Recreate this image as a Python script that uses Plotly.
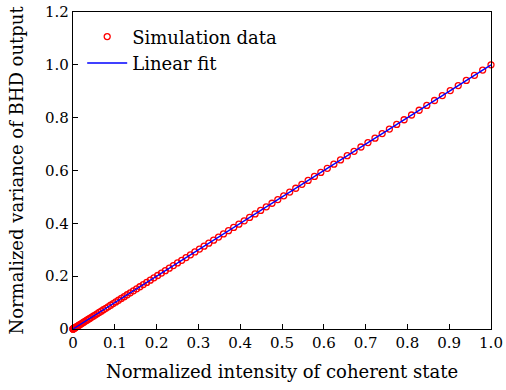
import plotly.graph_objects as go

sim_x = [0, 0.0001, 0.0004, 0.0009, 0.0016, 0.0025, 0.0036, 0.0049, 0.0064, 0.0081,
         0.01, 0.0121, 0.0144, 0.0169, 0.0196, 0.0225, 0.0256, 0.0289, 0.0324, 0.0361,
         0.04, 0.0441, 0.0484, 0.0529, 0.0576, 0.0625, 0.0676, 0.0729, 0.0784, 0.0841,
         0.09, 0.0961, 0.1024, 0.1089, 0.1156, 0.1225, 0.1296, 0.1369, 0.1444, 0.1521,
         0.16, 0.1681, 0.1764, 0.1849, 0.1936, 0.2025, 0.2116, 0.2209, 0.2304, 0.2401,
         0.25, 0.2601, 0.2704, 0.2809, 0.2916, 0.3025, 0.3136, 0.3249, 0.3364, 0.3481,
         0.36, 0.3721, 0.3844, 0.3969, 0.4096, 0.4225, 0.4356, 0.4489, 0.4624, 0.4761,
         0.49, 0.5041, 0.5184, 0.5329, 0.5476, 0.5625, 0.5776, 0.5929, 0.6084, 0.6241,
         0.64, 0.6561, 0.6724, 0.6889, 0.7056, 0.7225, 0.7396, 0.7569, 0.7744, 0.7921,
         0.81, 0.8281, 0.8464, 0.8649, 0.8836, 0.9025, 0.9216, 0.9409, 0.9604, 0.9801, 1.0]
sim_y = [0, 0.0001, 0.0004, 0.0009, 0.0016, 0.0025, 0.0036, 0.0049, 0.0064, 0.0081,
         0.01, 0.0121, 0.0144, 0.0169, 0.0196, 0.0225, 0.0256, 0.0289, 0.0324, 0.0361,
         0.04, 0.0441, 0.0484, 0.0529, 0.0576, 0.0625, 0.0676, 0.0729, 0.0784, 0.0841,
         0.09, 0.0961, 0.1024, 0.1089, 0.1156, 0.1225, 0.1296, 0.1369, 0.1444, 0.1521,
         0.16, 0.1681, 0.1764, 0.1849, 0.1936, 0.2025, 0.2116, 0.2209, 0.2304, 0.2401,
         0.25, 0.2601, 0.2704, 0.2809, 0.2916, 0.3025, 0.3136, 0.3249, 0.3364, 0.3481,
         0.36, 0.3721, 0.3844, 0.3969, 0.4096, 0.4225, 0.4356, 0.4489, 0.4624, 0.4761,
         0.49, 0.5041, 0.5184, 0.5329, 0.5476, 0.5625, 0.5776, 0.5929, 0.6084, 0.6241,
         0.64, 0.6561, 0.6724, 0.6889, 0.7056, 0.7225, 0.7396, 0.7569, 0.7744, 0.7921,
         0.81, 0.8281, 0.8464, 0.8649, 0.8836, 0.9025, 0.9216, 0.9409, 0.9604, 0.9801, 1.0]
fit_x = [0.0, 1.0]
fit_y = [0.0, 1.0]

x_tickvals = [0, 0.1, 0.2, 0.3, 0.4, 0.5, 0.6, 0.7, 0.8, 0.9, 1.0]
x_ticktext = ["0", "0.1", "0.2", "0.3", "0.4", "0.5", "0.6", "0.7", "0.8", "0.9", "1.0"]
y_tickvals = [0, 0.2, 0.4, 0.6, 0.8, 1.0, 1.2]
y_ticktext = ["0", "0.2", "0.4", "0.6", "0.8", "1.0", "1.2"]

FONT = "DejaVu Serif"
TICK_FS = 15
TEXT_FS = 18

fig = go.Figure()
fig.add_trace(go.Scatter(
    x=sim_x, y=sim_y, mode="markers", name="Simulation data",
    marker=dict(symbol="circle-open", color="#ff0000", size=6, line=dict(width=1.3, color="#ff0000")),
    cliponaxis=False,
))
fig.add_trace(go.Scatter(
    x=fit_x, y=fit_y, mode="lines", name="Linear fit",
    line=dict(color="#0000ff", width=1.4),
    cliponaxis=False,
))

axis_common = dict(
    showgrid=False, zeroline=False, showline=True, mirror=True,
    linecolor="black", linewidth=1.2, ticks="inside", ticklen=5,
    tickwidth=1, tickcolor="black", automargin=False,
    tickfont=dict(family=FONT, size=TICK_FS, color="black"),
)

fig.update_layout(
    width=506, height=390,
    margin=dict(l=73, r=15, t=12, b=61),
    paper_bgcolor="white", plot_bgcolor="white",
    font=dict(family=FONT, size=TEXT_FS, color="black"),
    showlegend=True,
    legend=dict(x=0.022, y=0.98, xanchor="left", yanchor="top",
                bgcolor="rgba(0,0,0,0)", borderwidth=0,
                font=dict(family=FONT, size=TEXT_FS, color="black"),
                tracegroupgap=0, itemwidth=40),
    xaxis=dict(range=[0, 1.0], tickvals=x_tickvals, ticktext=x_ticktext,
               title=dict(text="Normalized intensity of coherent state",
                          font=dict(family=FONT, size=TEXT_FS), standoff=14),
               **axis_common),
    yaxis=dict(range=[0, 1.2], tickvals=y_tickvals, ticktext=y_ticktext,
               title=dict(text="Normalized variance of BHD output",
                          font=dict(family=FONT, size=TEXT_FS), standoff=16),
               **axis_common),
)

fig.write_html("out.html")
